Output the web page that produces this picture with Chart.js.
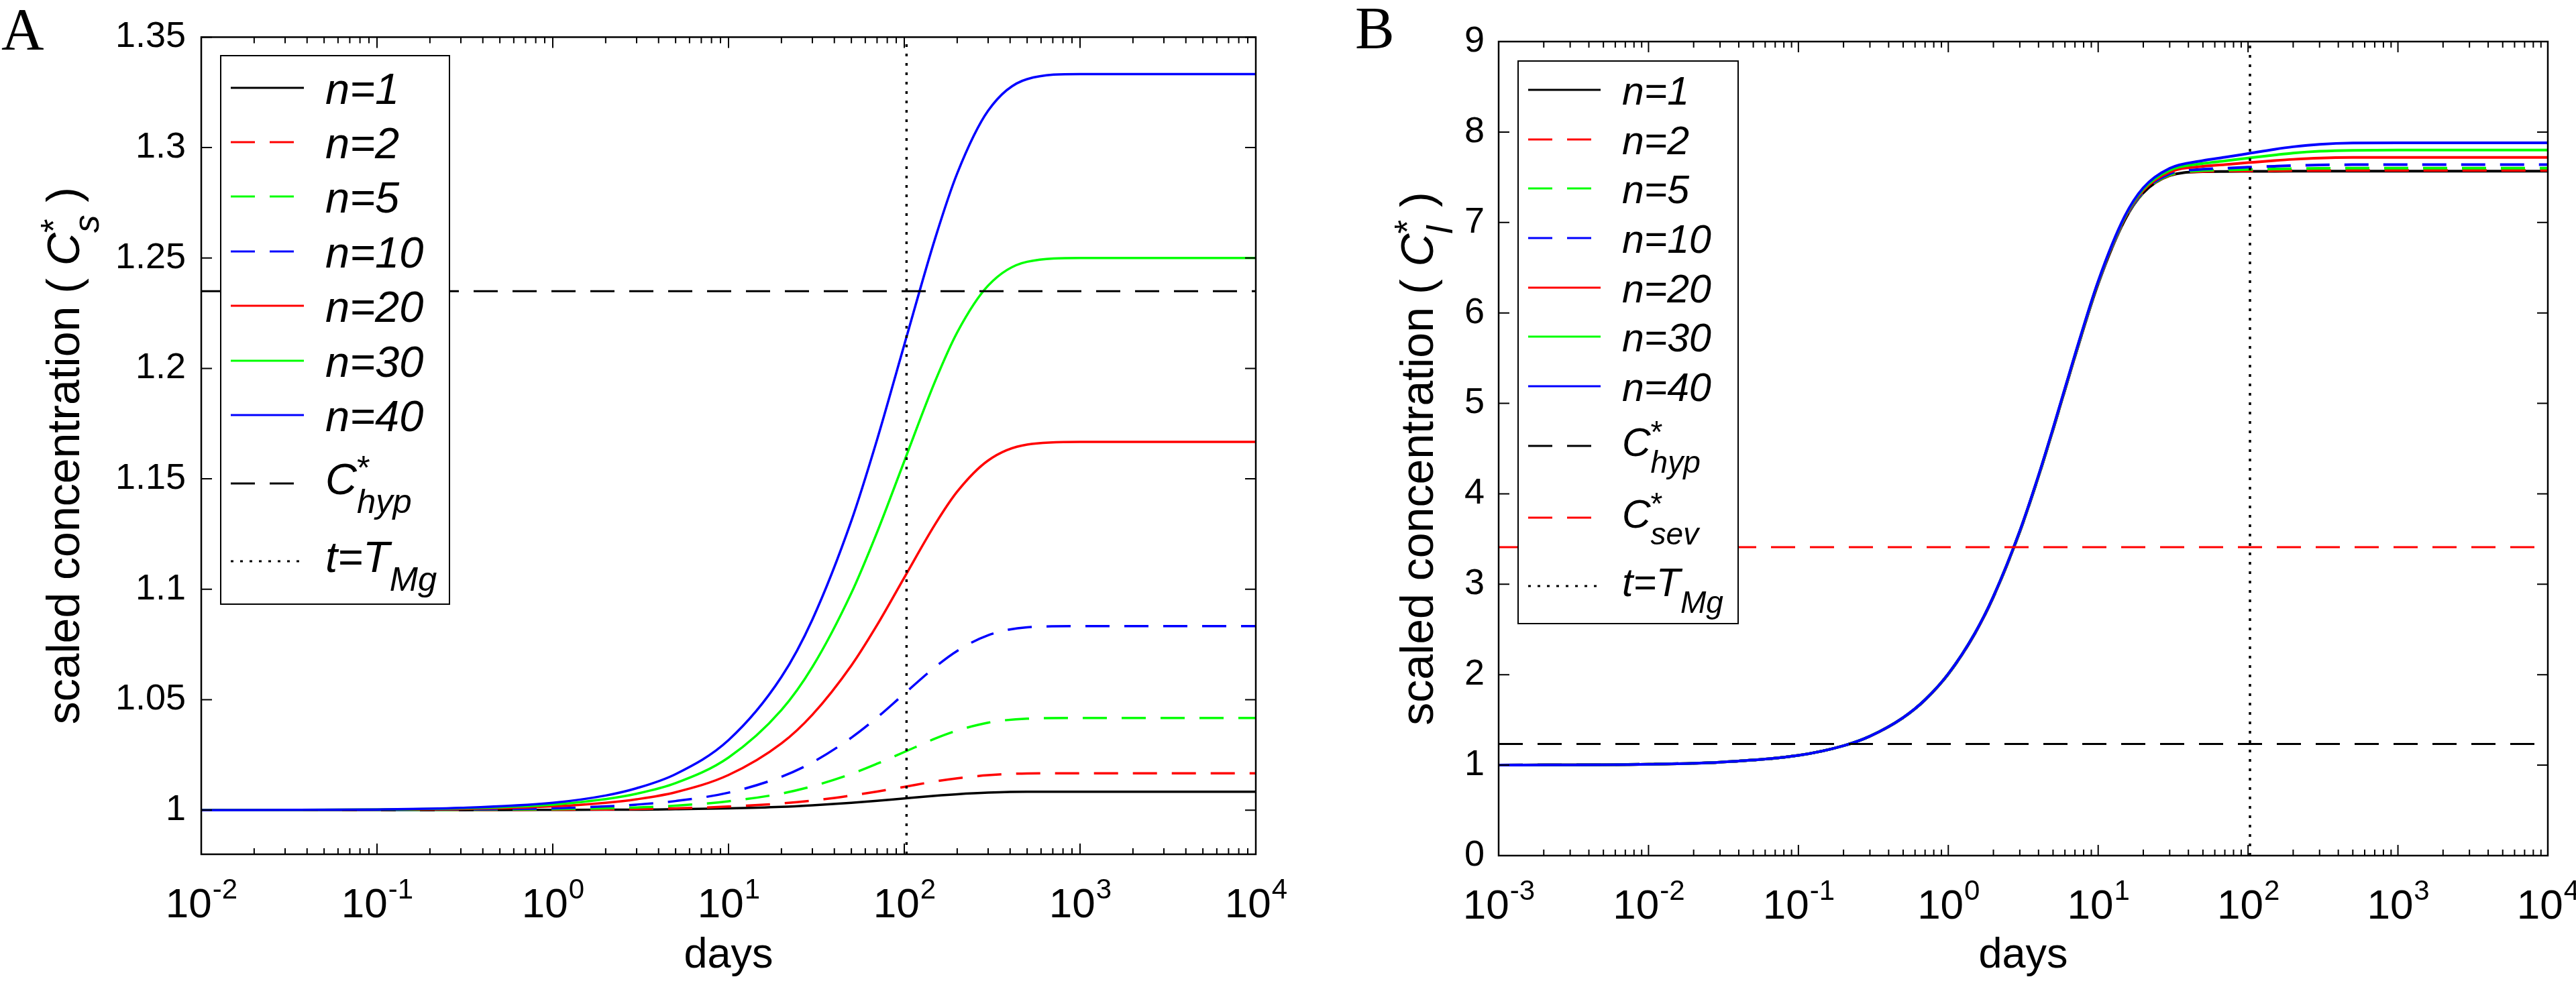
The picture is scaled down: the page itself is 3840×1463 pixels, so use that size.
<!DOCTYPE html>
<html>
<head>
<meta charset="utf-8">
<script src="https://cdn.jsdelivr.net/npm/chart.js@4.4.0/dist/chart.umd.min.js"></script>
<style>
  html, body { margin: 0; padding: 0; background: #fff; }
  #wrap { position: relative; width: 3840px; height: 1463px; }
  canvas { position: absolute; top: 0; }
  #cA { left: 0; }
  #cB { left: 1920px; }
</style>
</head>
<body>
<div id="wrap">
  <canvas id="cA" width="1920" height="1463"></canvas>
  <canvas id="cB" width="1920" height="1463"></canvas>
</div>
<script>
// ---- data ----
const seriesNames = ['n=1', 'n=2', 'n=5', 'n=10', 'n=20', 'n=30', 'n=40'];
const seriesColors = ['#000000', '#ff0000', '#00ff00', '#0000ff', '#ff0000', '#00ff00', '#0000ff'];
const seriesDashed = [false, true, true, true, false, false, false];

// panel A : scaled C*_s vs days
const daysA = [0.01, 0.1, 0.3, 1, 2, 3, 5, 10, 20, 30, 50, 70, 100, 150, 200, 300, 500, 1000, 10000];
const csN1  = [1.0000, 1.0000, 1.0000, 1.0001, 1.0002, 1.0002, 1.0004, 1.0008, 1.0015, 1.0022, 1.0033, 1.0042, 1.0053, 1.0065, 1.0072, 1.0079, 1.0083, 1.0083, 1.0083];
const csN2  = [1.0000, 1.0000, 1.0000, 1.0002, 1.0003, 1.0005, 1.0008, 1.0016, 1.0030, 1.0043, 1.0066, 1.0084, 1.0105, 1.0130, 1.0144, 1.0158, 1.0166, 1.0167, 1.0167];
const csN5  = [1.0000, 1.0000, 1.0001, 1.0004, 1.0008, 1.0012, 1.0020, 1.0040, 1.0075, 1.0108, 1.0164, 1.0210, 1.0263, 1.0324, 1.0360, 1.0396, 1.0414, 1.0417, 1.0417];
const csN10 = [1.0000, 1.0001, 1.0003, 1.0008, 1.0017, 1.0025, 1.0041, 1.0079, 1.0151, 1.0216, 1.0328, 1.0419, 1.0527, 1.0648, 1.0721, 1.0792, 1.0828, 1.0833, 1.0833];
const csN20 = [1.0000, 1.0002, 1.0005, 1.0017, 1.0033, 1.0049, 1.0081, 1.0159, 1.0302, 1.0432, 1.0655, 1.0838, 1.1053, 1.1295, 1.1442, 1.1583, 1.1655, 1.1667, 1.1667];
const csN30 = [1.0000, 1.0003, 1.0008, 1.0025, 1.0050, 1.0074, 1.0122, 1.0238, 1.0453, 1.0648, 1.0983, 1.1258, 1.1580, 1.1943, 1.2163, 1.2375, 1.2483, 1.2500, 1.2500];
const csN40 = [1.0000, 1.0003, 1.0010, 1.0033, 1.0066, 1.0099, 1.0163, 1.0317, 1.0603, 1.0863, 1.1310, 1.1677, 1.2107, 1.2590, 1.2883, 1.3167, 1.3310, 1.3333, 1.3333];

// panel B : scaled C*_l vs days
const daysB = [0.001, 0.01, 0.03, 0.1, 0.2, 0.3, 0.5, 0.7, 1, 1.5, 2, 3, 4, 5, 7, 10, 15, 20, 30, 50, 70, 100, 150, 200, 300, 500, 1000, 10000];
const clN1  = [1.001, 1.011, 1.033, 1.108, 1.215, 1.320, 1.525, 1.722, 2.007, 2.451, 2.860, 3.581, 4.192, 4.709, 5.518, 6.322, 7.022, 7.327, 7.518, 7.561, 7.564, 7.565, 7.566, 7.567, 7.568, 7.568, 7.568, 7.568];
const clN2  = [1.001, 1.011, 1.033, 1.108, 1.215, 1.320, 1.525, 1.722, 2.007, 2.451, 2.860, 3.581, 4.193, 4.710, 5.518, 6.323, 7.023, 7.329, 7.520, 7.564, 7.568, 7.570, 7.572, 7.574, 7.575, 7.576, 7.576, 7.576];
const clN5  = [1.001, 1.011, 1.033, 1.108, 1.215, 1.320, 1.525, 1.722, 2.007, 2.452, 2.861, 3.582, 4.194, 4.711, 5.520, 6.325, 7.027, 7.333, 7.526, 7.574, 7.580, 7.585, 7.591, 7.595, 7.598, 7.600, 7.600, 7.600];
const clN10 = [1.001, 1.011, 1.033, 1.108, 1.215, 1.320, 1.525, 1.723, 2.008, 2.452, 2.862, 3.583, 4.195, 4.713, 5.522, 6.329, 7.032, 7.340, 7.537, 7.589, 7.600, 7.611, 7.622, 7.629, 7.636, 7.639, 7.640, 7.640];
const clN20 = [1.001, 1.011, 1.033, 1.108, 1.215, 1.320, 1.526, 1.723, 2.009, 2.453, 2.863, 3.586, 4.198, 4.717, 5.528, 6.336, 7.043, 7.355, 7.557, 7.621, 7.640, 7.661, 7.684, 7.698, 7.712, 7.719, 7.720, 7.720];
const clN30 = [1.001, 1.011, 1.033, 1.108, 1.215, 1.321, 1.526, 1.724, 2.009, 2.455, 2.865, 3.588, 4.201, 4.721, 5.533, 6.344, 7.054, 7.369, 7.578, 7.652, 7.681, 7.712, 7.746, 7.768, 7.788, 7.798, 7.800, 7.800];
const clN40 = [1.001, 1.011, 1.033, 1.108, 1.215, 1.321, 1.527, 1.724, 2.010, 2.456, 2.866, 3.591, 4.205, 4.725, 5.539, 6.351, 7.065, 7.384, 7.599, 7.684, 7.721, 7.762, 7.809, 7.837, 7.864, 7.878, 7.880, 7.880];

// thresholds
const cHyp = 1.235;
const cSev = 3.41;
const tMg = 103;

// axes
const xTicksA = [0.01, 0.1, 1, 10, 100, 1000, 10000];
const xExpA = ['-2', '-1', '0', '1', '2', '3', '4'];
const xTicksB = [0.001, 0.01, 0.1, 1, 10, 100, 1000, 10000];
const xExpB = ['-3', '-2', '-1', '0', '1', '2', '3', '4'];
const yTicksA = [1, 1.05, 1.1, 1.15, 1.2, 1.25, 1.3, 1.35];
const yTicksB = [0, 1, 2, 3, 4, 5, 6, 7, 8, 9];

const FONT = "'Liberation Sans', Arial, Helvetica, sans-serif";

// text with super/subscripts (C*_hyp etc)
function drawRich(ctx, x0, y0, parts, size, supShift) {
  let x = x0, supW = 0;
  ctx.textAlign = 'left';
  ctx.textBaseline = 'alphabetic';
  parts.forEach(p => {
    const small = p.sup || p.sub;
    const fs = small ? size * 0.78 : size;
    ctx.font = (p.it ? 'italic ' : '') + fs + 'px ' + FONT;
    const w = ctx.measureText(p.t).width;
    if (p.sup) {
      ctx.fillText(p.t, x, y0 - size * supShift);
      supW = w;
    } else if (p.sub) {
      ctx.fillText(p.t, x, y0 + size * 0.42);
      x += Math.max(w, supW);
      supW = 0;
    } else {
      x += supW; supW = 0;
      ctx.fillText(p.t, x, y0);
      x += w;
    }
  });
  return x + supW - x0;
}

function richWidth(ctx, parts, size) {
  ctx.save();
  ctx.globalAlpha = 0;
  const w = drawRich(ctx, 0, 0, parts, size, 0.3);
  ctx.restore();
  return w;
}

const decor = {
  id: 'decor',
  afterDraw(chart, args, o) {
    const ctx = chart.ctx;
    const ca = chart.chartArea;
    const xs = chart.scales.x, ys = chart.scales.y;
    ctx.save();
    ctx.setLineDash([]);
    ctx.strokeStyle = '#000';
    ctx.fillStyle = '#000';

    // axes box
    ctx.lineWidth = 2.5;
    ctx.strokeRect(ca.left, ca.top, ca.right - ca.left, ca.bottom - ca.top);

    // inward ticks
    ctx.lineWidth = 2;
    ctx.beginPath();
    o.xTicks.forEach((v, i) => {
      const px = xs.getPixelForValue(v);
      ctx.moveTo(px, ca.bottom); ctx.lineTo(px, ca.bottom - 16);
      ctx.moveTo(px, ca.top); ctx.lineTo(px, ca.top + 16);
      if (i < o.xTicks.length - 1) {
        for (let m = 2; m < 10; m++) {
          const pm = xs.getPixelForValue(v * m);
          ctx.moveTo(pm, ca.bottom); ctx.lineTo(pm, ca.bottom - 9);
          ctx.moveTo(pm, ca.top); ctx.lineTo(pm, ca.top + 9);
        }
      }
    });
    o.yTicks.forEach(v => {
      const py = ys.getPixelForValue(v);
      ctx.moveTo(ca.left, py); ctx.lineTo(ca.left + 16, py);
      ctx.moveTo(ca.right, py); ctx.lineTo(ca.right - 16, py);
    });
    ctx.stroke();

    // x tick labels 10^k
    o.xTicks.forEach((v, i) => {
      const px = xs.getPixelForValue(v);
      ctx.font = '62px ' + FONT;
      const w1 = ctx.measureText('10').width;
      ctx.font = '42px ' + FONT;
      const w2 = ctx.measureText(o.xExp[i]).width;
      const x0 = px - (w1 + w2) / 2;
      ctx.textAlign = 'left';
      ctx.textBaseline = 'alphabetic';
      ctx.font = '62px ' + FONT;
      ctx.fillText('10', x0, ca.bottom + 94);
      ctx.font = '42px ' + FONT;
      ctx.fillText(o.xExp[i], x0 + w1 + 1, ca.bottom + 66);
    });

    // y axis title
    const tw = richWidth(ctx, o.yTitle, 68);
    ctx.save();
    ctx.translate(o.yTitleX, (ca.top + ca.bottom) / 2 + 15);
    ctx.rotate(-Math.PI / 2);
    drawRich(ctx, -tw / 2, 0, o.yTitle, 68, 0.3);
    ctx.restore();

    // panel letter
    ctx.font = "88px 'Liberation Serif', 'Times New Roman', serif";
    ctx.textAlign = 'left';
    ctx.textBaseline = 'alphabetic';
    ctx.fillText(o.letter.text, o.letter.x, o.letter.y);

    // legend
    const lg = o.legend;
    ctx.fillStyle = '#fff';
    ctx.fillRect(lg.x, lg.y, lg.w, lg.h);
    ctx.lineWidth = 2;
    ctx.strokeStyle = '#000';
    ctx.strokeRect(lg.x, lg.y, lg.w, lg.h);
    chart.data.datasets.forEach((ds, i) => {
      const ry = lg.rows[i];
      ctx.beginPath();
      ctx.setLineDash(ds.borderDash || []);
      ctx.lineCap = 'butt';
      ctx.lineWidth = 3;
      ctx.strokeStyle = ds.borderColor;
      ctx.moveTo(lg.x1, ry);
      ctx.lineTo(lg.x2, ry);
      ctx.stroke();
      ctx.setLineDash([]);
      ctx.fillStyle = '#000';
      const parts = ds.legendParts || [{ t: ds.label, it: true }];
      const hasSub = parts.some(p => p.sub);
      drawRich(ctx, lg.tx, ry + lg.font * (hasSub ? 0.25 : 0.37), parts, lg.font, 0.34);
    });
    ctx.restore();
  }
};

function curveSets(days, arrays, width) {
  return arrays.map((vals, i) => ({
    label: seriesNames[i],
    data: days.map((d, j) => ({ x: d, y: vals[j] })),
    borderColor: seriesColors[i],
    borderWidth: width,
    borderDash: seriesDashed[i] ? [36, 22] : [],
    borderCapStyle: 'butt',
    borderJoinStyle: 'round',
    cubicInterpolationMode: 'monotone',
    pointRadius: 0,
    fill: false
  }));
}

function hLine(label, parts, y, xmin, xmax, color) {
  return {
    label: label, legendParts: parts,
    data: [{ x: xmin, y: y }, { x: xmax, y: y }],
    borderColor: color, borderWidth: 3, borderDash: [36, 22], borderCapStyle: 'butt',
    pointRadius: 0, fill: false
  };
}

function vLine(x, ymin, ymax) {
  return {
    label: 't=TMg', legendParts: [{ t: 't=T', it: true }, { t: 'Mg', sub: true, it: true }],
    data: [{ x: x, y: ymin }, { x: x, y: ymax }],
    borderColor: '#000', borderWidth: 3.5, borderDash: [4, 10], borderCapStyle: 'butt',
    pointRadius: 0, fill: false
  };
}

function makeChart(id, cfg) {
  const sets = cfg.datasets;
  sets.forEach((d, i) => { d.order = sets.length - i; });
  return new Chart(document.getElementById(id).getContext('2d'), {
    type: 'line',
    data: { datasets: sets },
    options: {
      responsive: false,
      animation: false,
      devicePixelRatio: 1,
      events: [],
      layout: { padding: cfg.padding },
      scales: {
        x: {
          type: 'logarithmic',
          min: cfg.xTicks[0],
          max: cfg.xTicks[cfg.xTicks.length - 1],
          grid: { display: false, drawTicks: false },
          border: { display: false },
          ticks: { display: false },
          afterBuildTicks: s => { s.ticks = cfg.xTicks.map(v => ({ value: v })); },
          afterFit: s => { s.height = cfg.xHeight; },
          title: {
            display: true, text: 'days', color: '#000',
            font: { family: FONT, size: 63 },
            padding: { top: 0, bottom: 0 }
          }
        },
        y: {
          type: 'linear',
          min: cfg.yMin,
          max: cfg.yMax,
          grid: { display: false, drawTicks: false },
          border: { display: false },
          ticks: {
            color: '#000',
            padding: cfg.tickPad,
            font: { family: FONT, size: 54 },
            callback: v => String(Number(Number(v).toFixed(2)))
          },
          afterBuildTicks: s => { s.ticks = cfg.yTicks.map(v => ({ value: v })); },
          afterFit: s => { s.width = cfg.yWidth; }
        }
      },
      plugins: {
        legend: { display: false },
        tooltip: { enabled: false },
        decor: {
          xTicks: cfg.xTicks, xExp: cfg.xExp, yTicks: cfg.yTicks,
          yTitle: cfg.yTitle, yTitleX: cfg.yTitleX,
          letter: cfg.letter, legend: cfg.legend
        }
      }
    },
    plugins: [decor]
  });
}

const hypParts = [{ t: 'C', it: true }, { t: '*', sup: true }, { t: 'hyp', sub: true, it: true }];
const sevParts = [{ t: 'C', it: true }, { t: '*', sup: true }, { t: 'sev', sub: true, it: true }];

makeChart('cA', {
  datasets: curveSets(daysA, [csN1, csN2, csN5, csN10, csN20, csN30, csN40], 3.5)
    .concat([hLine('C*hyp', hypParts, cHyp, 0.01, 10000, '#000'), vLine(tMg, 0.98, 1.35)]),
  padding: { top: 55, right: 48, bottom: 0, left: 0 },
  xTicks: xTicksA, xExp: xExpA, yTicks: yTicksA,
  yMin: 0.98, yMax: 1.35,
  xHeight: 189, yWidth: 300, tickPad: 23,
  yTitle: [{ t: 'scaled concentration ( ' }, { t: 'C', it: true }, { t: '*', sup: true }, { t: 's', sub: true, it: true }, { t: ' )' }],
  yTitleX: 118,
  letter: { text: 'A', x: 2, y: 73 },
  legend: { x: 329, y: 83, w: 341, h: 818, x1: 344, x2: 453, tx: 485, font: 65,
            rows: [131, 212, 293, 375, 456, 538, 619, 721, 837] }
});

makeChart('cB', {
  datasets: curveSets(daysB, [clN1, clN2, clN5, clN10, clN20, clN30, clN40], 4)
    .concat([hLine('C*hyp', hypParts, cHyp, 0.001, 10000, '#000'),
             hLine('C*sev', sevParts, cSev, 0.001, 10000, '#ff0000'),
             vLine(tMg, 0, 9)]),
  padding: { top: 62, right: 42, bottom: 0, left: 0 },
  xTicks: xTicksB, xExp: xExpB, yTicks: yTicksB,
  yMin: 0, yMax: 9,
  xHeight: 187, yWidth: 314, tickPad: 21,
  yTitle: [{ t: 'scaled concentration ( ' }, { t: 'C', it: true }, { t: '*', sup: true }, { t: 'l', sub: true, it: true }, { t: ' )' }],
  yTitleX: 216,
  letter: { text: 'B', x: 100, y: 71 },
  legend: { x: 343, y: 91, w: 328, h: 839, x1: 358, x2: 466, tx: 498, font: 59,
            rows: [134, 208, 281, 355, 429, 502, 576, 665, 772, 874] }
});
</script>
</body>
</html>
